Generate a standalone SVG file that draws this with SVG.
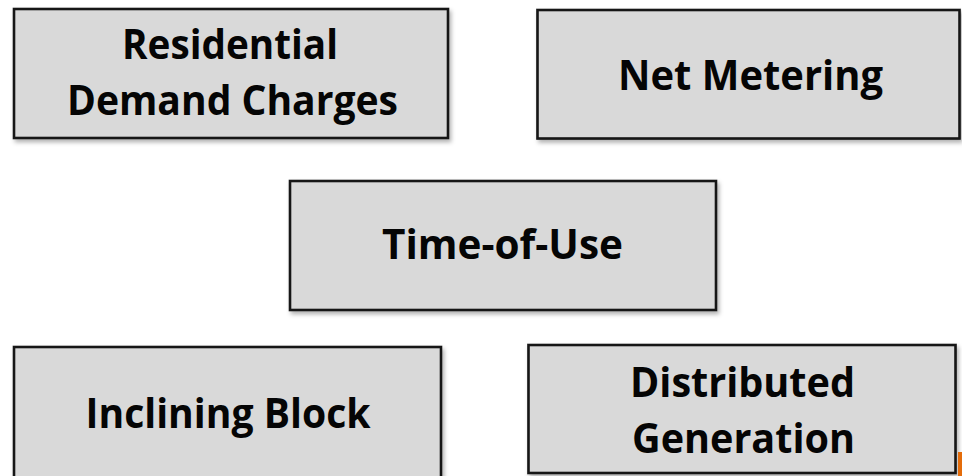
<svg xmlns="http://www.w3.org/2000/svg" width="962" height="476" viewBox="0 0 962 476">
<style>
.box{fill:#d9d9d9;stroke:#141414;stroke-width:2.6;filter:url(#sh)}
.t{font-family:"Open Sans",Lato,"Liberation Sans",sans-serif;font-weight:bold;font-size:41px;fill:#050505;text-anchor:middle;font-variant-ligatures:none}
</style>
<defs>
<filter id="sh" x="-5%" y="-5%" width="112%" height="120%">
<feDropShadow dx="2" dy="3" stdDeviation="2" flood-color="#000" flood-opacity="0.3"/>
</filter>
</defs>
<rect width="962" height="476" fill="#ffffff"/>
<g id="connectors"></g>
<g id="residential">
<rect class="box" x="14" y="9" width="434" height="129"/>
<text class="t" x="230" y="59" textLength="216" lengthAdjust="spacingAndGlyphs">Residential</text>
<text class="t" x="232.5" y="115" textLength="331" lengthAdjust="spacingAndGlyphs">Demand Charges</text>
</g>
<g id="net-metering">
<rect class="box" x="537.5" y="10" width="422" height="128.5"/>
<text class="t" x="750.5" y="90" textLength="265" lengthAdjust="spacingAndGlyphs">Net Metering</text>
</g>
<g id="time-of-use">
<rect class="box" x="290" y="181" width="426" height="129"/>
<text class="t" x="502.5" y="259" textLength="241" lengthAdjust="spacingAndGlyphs">Time-of-Use</text>
</g>
<g id="inclining-block">
<rect class="box" x="14" y="347" width="427" height="135"/>
<text class="t" x="228" y="428" textLength="285" lengthAdjust="spacingAndGlyphs">Inclining Block</text>
</g>
<g id="distributed-generation">
<rect class="box" x="528.5" y="345" width="427" height="128"/>
<text class="t" x="742.5" y="397" textLength="225" lengthAdjust="spacingAndGlyphs">Distributed</text>
<text class="t" x="743.5" y="453" textLength="223" lengthAdjust="spacingAndGlyphs">Generation</text>
</g>
<rect x="958" y="452" width="4" height="24" fill="#e46c0a"/>
</svg>
